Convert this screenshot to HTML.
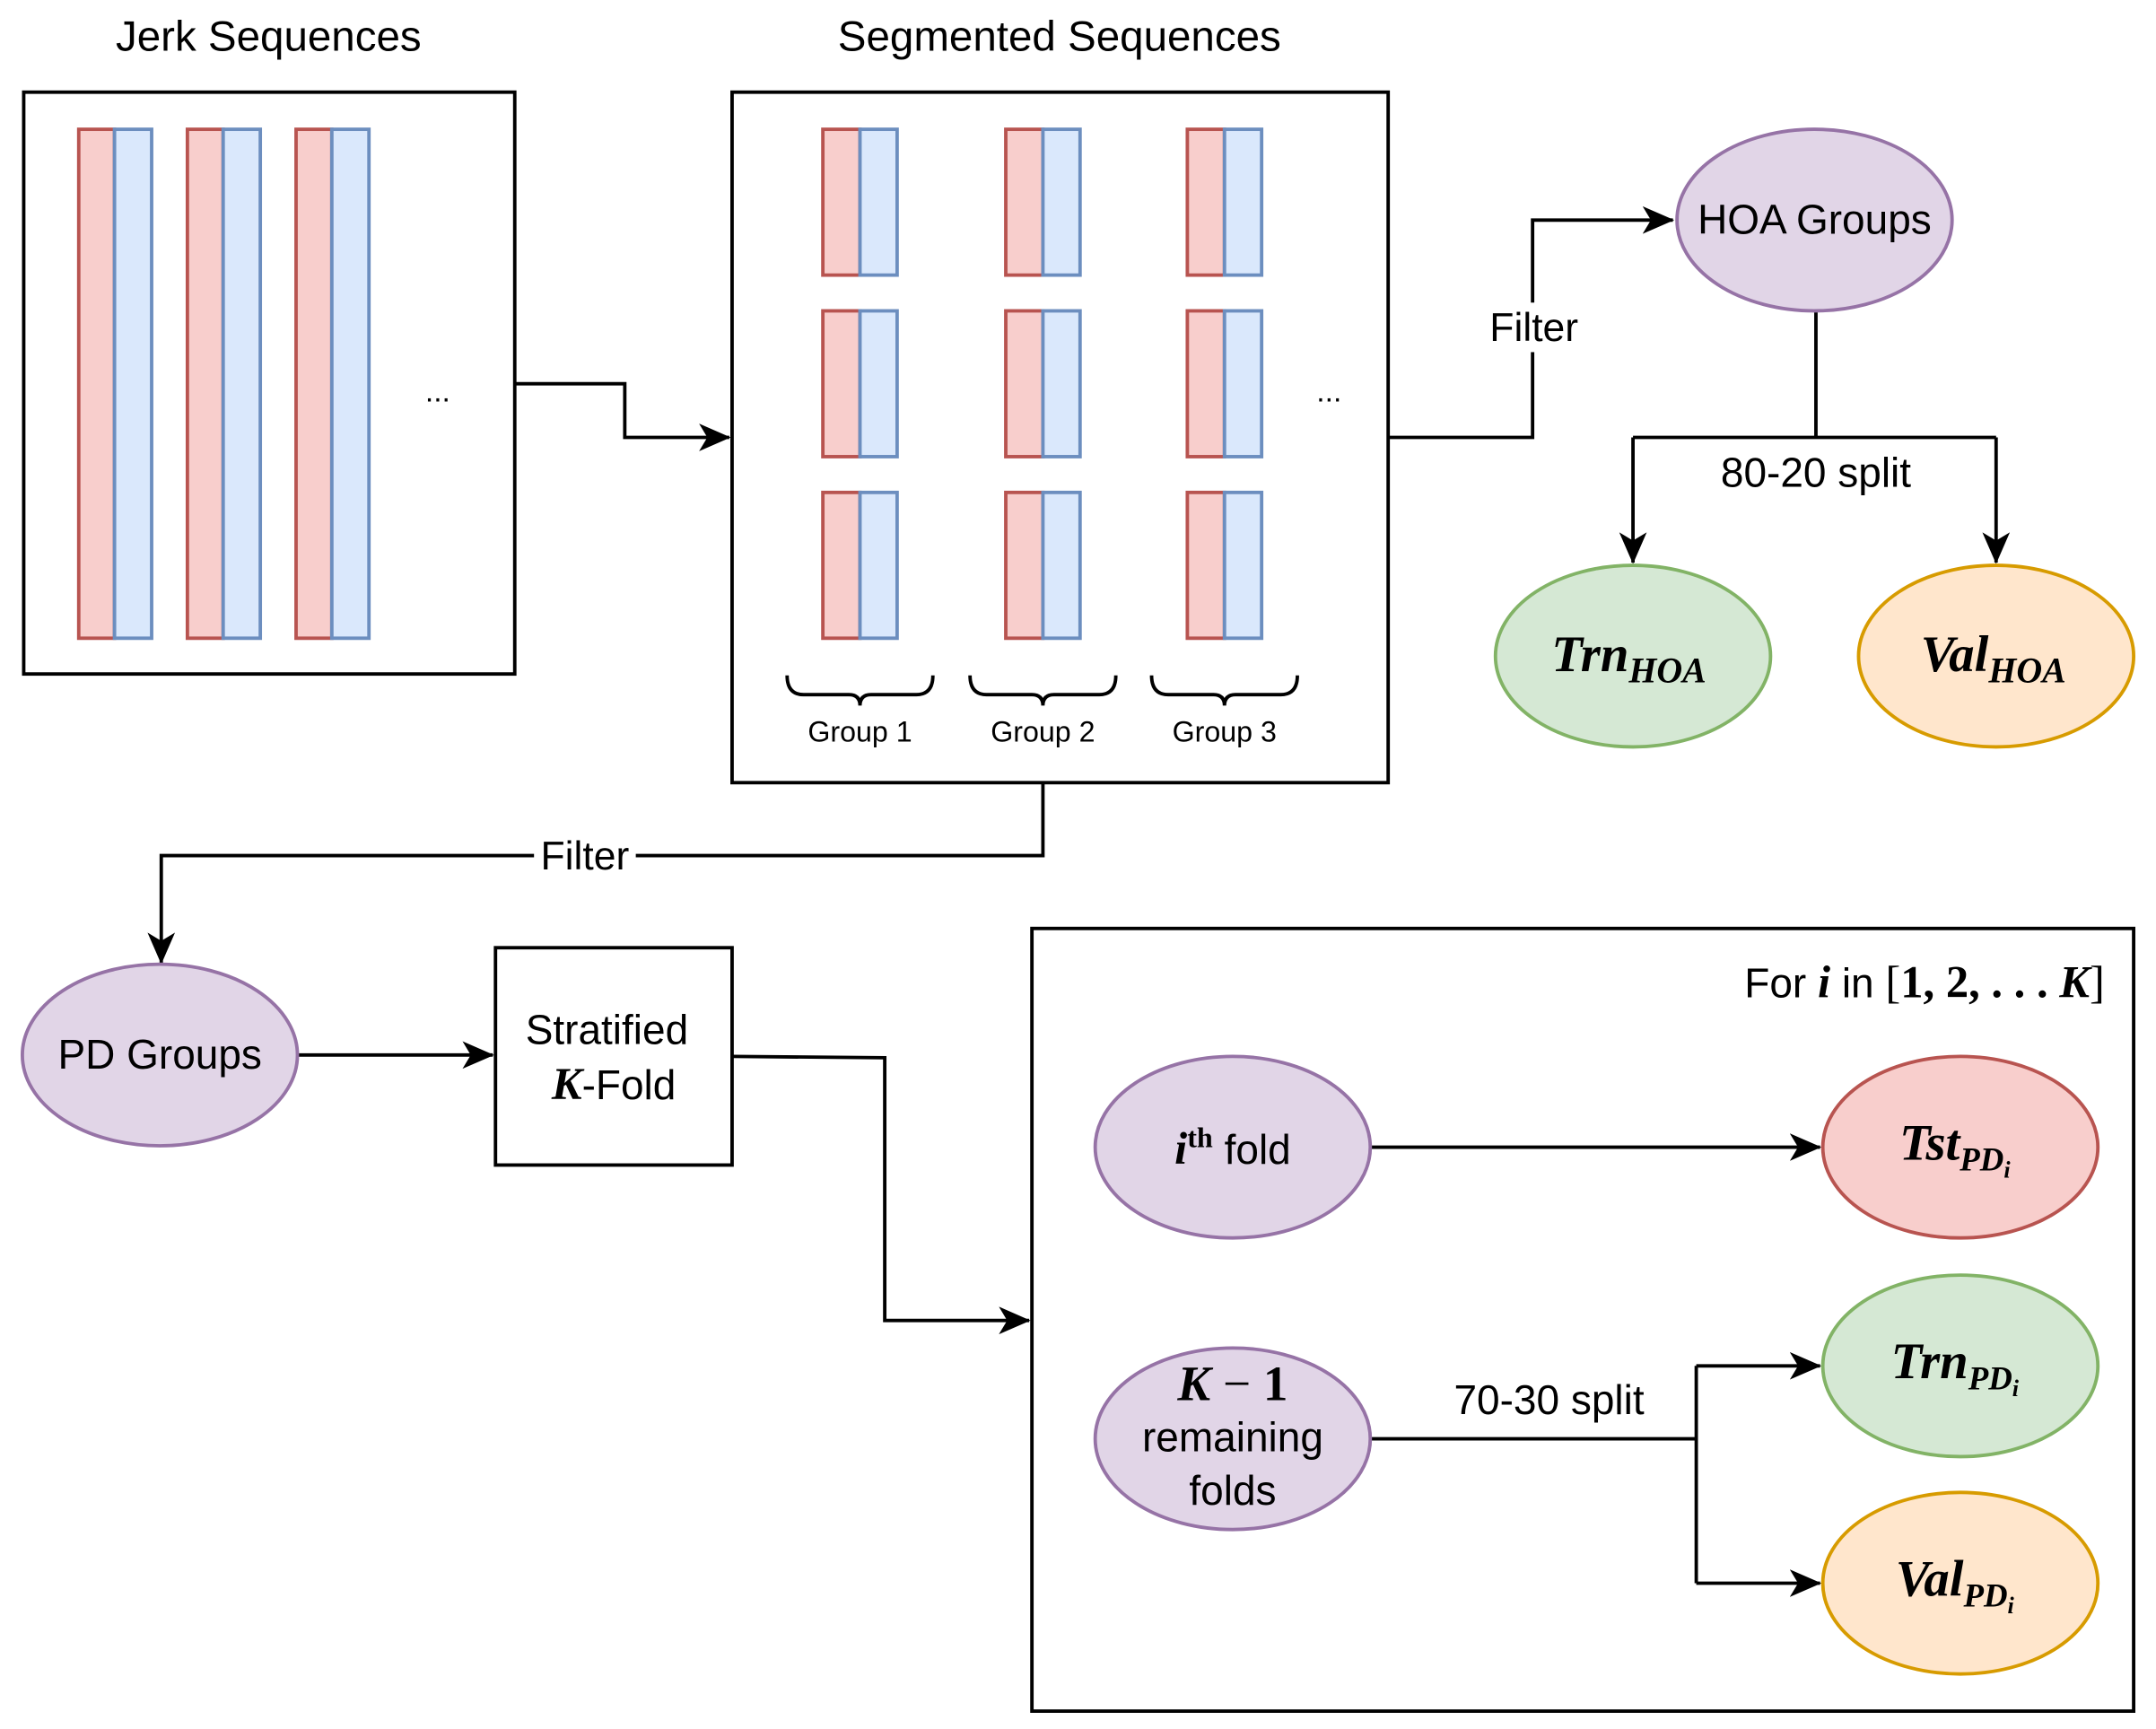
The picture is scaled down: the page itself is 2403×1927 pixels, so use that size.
<!DOCTYPE html>
<html><head><meta charset="utf-8"><style>
html,body{margin:0;padding:0;background:#fff}
svg{display:block}
</style></head><body>
<svg width="2403" height="1927" viewBox="0 0 1567 1257" xmlns="http://www.w3.org/2000/svg" font-family="Liberation Sans, sans-serif">
<defs>
<marker id="b" markerWidth="24" markerHeight="24" refX="22" refY="12" orient="auto" markerUnits="userSpaceOnUse" viewBox="0 0 24 24">
<path d="M0,2 L23,12 L0,22 L6,12 z" fill="#000"/></marker>
</defs>
<g stroke-width="2.5" fill="none" stroke="#000">
<rect x="17" y="67" width="357" height="423" fill="#fff"/>
<rect x="532" y="67" width="477" height="502" fill="#fff"/>
<rect x="360" y="689" width="172" height="158" fill="#fff"/>
<rect x="750" y="675" width="801" height="569" fill="#fff"/>
</g>
<g stroke-width="2.5">
<rect x="57" y="94" width="26" height="370" fill="#f8cecc" stroke="#b85450"/>
<rect x="83" y="94" width="27" height="370" fill="#dae8fc" stroke="#6c8ebf"/>
<rect x="136" y="94" width="26" height="370" fill="#f8cecc" stroke="#b85450"/>
<rect x="162" y="94" width="27" height="370" fill="#dae8fc" stroke="#6c8ebf"/>
<rect x="215" y="94" width="26" height="370" fill="#f8cecc" stroke="#b85450"/>
<rect x="241" y="94" width="27" height="370" fill="#dae8fc" stroke="#6c8ebf"/>
</g>
<g stroke-width="2.5">
<g id="col">
<rect x="598" y="94" width="27" height="106" fill="#f8cecc" stroke="#b85450"/>
<rect x="625" y="94" width="27" height="106" fill="#dae8fc" stroke="#6c8ebf"/>
<rect x="598" y="226" width="27" height="106" fill="#f8cecc" stroke="#b85450"/>
<rect x="625" y="226" width="27" height="106" fill="#dae8fc" stroke="#6c8ebf"/>
<rect x="598" y="358" width="27" height="106" fill="#f8cecc" stroke="#b85450"/>
<rect x="625" y="358" width="27" height="106" fill="#dae8fc" stroke="#6c8ebf"/>
</g>
<use href="#col" x="133"/>
<use href="#col" x="265"/>
</g>
<g fill="none" stroke="#000" stroke-width="2.5">
<path d="M572,491 q0,14 12,14 h33 q8,0 8,8 q0,-8 8,-8 h33 q12,0 12,-14"/>
<path d="M705,491 q0,14 12,14 h33 q8,0 8,8 q0,-8 8,-8 h33 q12,0 12,-14"/>
<path d="M837,491 q0,14 12,14 h33 q8,0 8,8 q0,-8 8,-8 h33 q12,0 12,-14"/>
</g>
<g font-size="21" text-anchor="middle">
<text x="625" y="539">Group 1</text>
<text x="758" y="539">Group 2</text>
<text x="890" y="539">Group 3</text>
</g>
<g font-size="31" text-anchor="middle">
<text x="195" y="37">Jerk Sequences</text>
<text x="770" y="37">Segmented Sequences</text>
<text x="318" y="292" font-size="22">...</text>
<text x="966" y="292" font-size="22">...</text>
</g>
<g fill="none" stroke="#000" stroke-width="2.5">
<path d="M374,279 H454 V318 H530" marker-end="url(#b)"/>
<path d="M1009,318 H1114 V160 H1216" marker-end="url(#b)"/>
<path d="M1320,226 V318"/>
<path d="M1187,318 H1451"/>
<path d="M1187,318 V409" marker-end="url(#b)"/>
<path d="M1451,318 V409" marker-end="url(#b)"/>
<path d="M758,569 V622 H117 V700" marker-end="url(#b)"/>
<path d="M216,767 H358" marker-end="url(#b)"/>
<path d="M532,768 L643,769 V960 H748" marker-end="url(#b)"/>
<path d="M996,834 H1323" marker-end="url(#b)"/>
<path d="M996,1046 H1233"/>
<path d="M1233,993 V1151"/>
<path d="M1233,993 H1323" marker-end="url(#b)"/>
<path d="M1233,1151 H1323" marker-end="url(#b)"/>
</g>
<rect x="1080" y="220" width="70" height="36" fill="#fff"/>
<rect x="388" y="606" width="74" height="32" fill="#fff"/>
<g font-size="29" text-anchor="middle">
<text x="1115" y="248">Filter</text>
<text x="425" y="632">Filter</text>
<text x="1320" y="354" font-size="30">80-20 split</text>
<text x="1126" y="1028" font-size="30">70-30 split</text>
</g>
<g stroke-width="2.5">
<ellipse cx="1319" cy="160" rx="100" ry="66" fill="#e1d5e7" stroke="#9673a6"/>
<ellipse cx="1187" cy="477" rx="100" ry="66" fill="#d5e8d4" stroke="#82b366"/>
<ellipse cx="1451" cy="477" rx="100" ry="66" fill="#ffe6cc" stroke="#d79b00"/>
<ellipse cx="116" cy="767" rx="100" ry="66" fill="#e1d5e7" stroke="#9673a6"/>
<ellipse cx="896" cy="834" rx="100" ry="66" fill="#e1d5e7" stroke="#9673a6"/>
<ellipse cx="896" cy="1046" rx="100" ry="66" fill="#e1d5e7" stroke="#9673a6"/>
<ellipse cx="1425" cy="834" rx="100" ry="66" fill="#f8cecc" stroke="#b85450"/>
<ellipse cx="1425" cy="993" rx="100" ry="66" fill="#d5e8d4" stroke="#82b366"/>
<ellipse cx="1425" cy="1151" rx="100" ry="66" fill="#ffe6cc" stroke="#d79b00"/>
</g>
<g font-size="30" text-anchor="middle">
<text x="1319" y="170">HOA Groups</text>
<text x="116" y="777">PD Groups</text>
<text x="441" y="759">Stratified</text>
<text x="446" y="799"><tspan font-family="Liberation Serif, serif" font-style="italic" font-weight="bold" font-size="33">K</tspan>-Fold</text>
<text x="896" y="846"><tspan font-family="Liberation Serif, serif" font-style="italic" font-weight="bold" font-size="33">i</tspan><tspan font-family="Liberation Serif, serif" font-weight="bold" font-size="21" dy="-12">th</tspan><tspan dy="12"> fold</tspan></text>
<text x="896" y="1018" font-family="Liberation Serif, serif" font-size="36"><tspan font-style="italic" font-weight="bold">K</tspan> − <tspan font-weight="bold">1</tspan></text>
<text x="896" y="1055">remaining</text>
<text x="896" y="1094">folds</text>
<text x="1530" y="725" text-anchor="end">For <tspan font-family="Liberation Serif, serif" font-style="italic" font-weight="bold" font-size="33">i</tspan> in <tspan font-family="Liberation Serif, serif" font-size="33">[<tspan font-weight="bold">1, 2, . . .</tspan> <tspan font-style="italic" font-weight="bold">K</tspan>]</tspan></text>
</g>
<g font-family="Liberation Serif, serif" font-style="italic" font-weight="bold" text-anchor="middle">
<text x="1184" y="488" font-size="37">Trn<tspan font-size="26" dy="8">HOA</tspan></text>
<text x="1449" y="488" font-size="37">Val<tspan font-size="26" dy="8">HOA</tspan></text>
<text x="1421" y="843" font-size="37">Tst<tspan font-size="24" dy="8">PD<tspan font-size="17" dy="5">i</tspan></tspan></text>
<text x="1421" y="1002" font-size="37">Trn<tspan font-size="24" dy="8">PD<tspan font-size="17" dy="5">i</tspan></tspan></text>
<text x="1421" y="1160" font-size="37">Val<tspan font-size="24" dy="8">PD<tspan font-size="17" dy="5">i</tspan></tspan></text>
</g>
</svg>
</body></html>
